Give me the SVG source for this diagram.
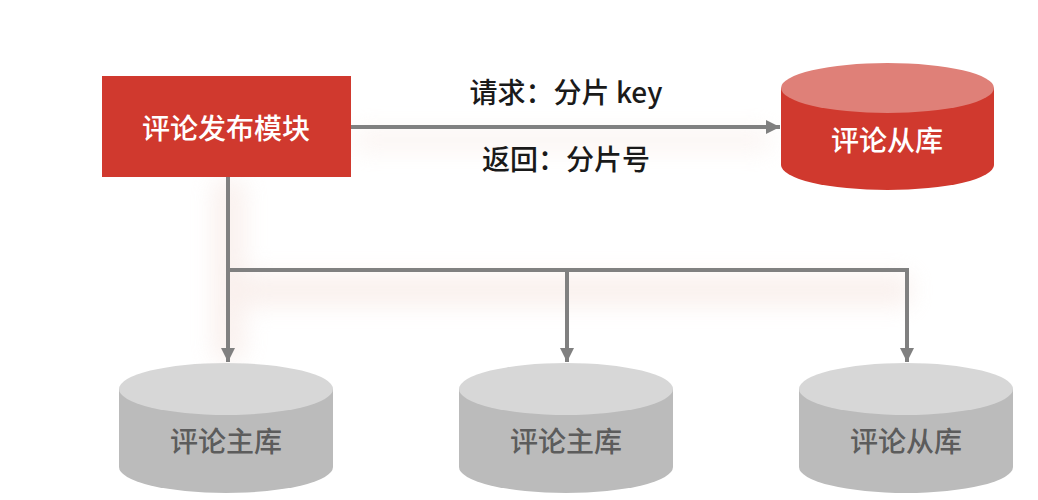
<svg xmlns="http://www.w3.org/2000/svg" width="1038" height="500" viewBox="0 0 1038 500">
<defs>
<style>
.lbl{font-family:"Noto Sans CJK SC","Noto Sans",sans-serif;font-size:28px;font-weight:500;text-anchor:middle;dominant-baseline:central}
.white{fill:#ffffff}
.gray{fill:#5c5c5c}
.edge{fill:none;stroke:#808080;stroke-width:4}
.note{font-family:"Noto Sans CJK SC","Noto Sans",sans-serif;font-size:28px;font-weight:500;fill:#1a1a1a;text-anchor:middle;dominant-baseline:central}
</style>
<marker id="arr" viewBox="0 0 10 10" refX="10" refY="5" markerWidth="3.6" markerHeight="3.6" orient="auto" markerUnits="strokeWidth">
<path d="M0,0 L10,5 L0,10 Z" fill="#808080"/>
</marker>
<filter id="glow" x="-50%" y="-50%" width="200%" height="200%">
<feGaussianBlur stdDeviation="12"/>
</filter>
</defs>
<rect width="1038" height="500" fill="#ffffff"/>
<g id="glow-layer" opacity="0.45" filter="url(#glow)">
<path d="M229,180 V360 M229,290 H910" fill="none" stroke="#f3ddd6" stroke-width="30"/>
<path d="M355,140 H770" fill="none" stroke="#f6e6e0" stroke-width="20"/>
</g>
<g id="connectors">
<path class="edge" d="M351,127 H780" marker-end="url(#arr)"/>
<path class="edge" d="M228,177 V362" marker-end="url(#arr)"/>
<path class="edge" d="M228,270 H907 V362" marker-end="url(#arr)"/>
<path class="edge" d="M567,270 V362" marker-end="url(#arr)"/>
<text class="note" x="566" y="91">请求：分片 key</text>
<text class="note" x="566" y="158">返回：分片号</text>
</g>
<g id="publish">
<rect x="102" y="76" width="249" height="101" fill="#d0392e"/>
<text class="lbl white" x="226" y="127">评论发布模块</text>
</g>
<g id="slave-red">
<path d="M781,88 V165 A106.5,25 0 0 0 994,165 V88 Z" fill="#d0392e"/>
<ellipse cx="887.5" cy="88" rx="106.5" ry="25" fill="#df8078"/>
<text class="lbl white" x="887" y="139">评论从库</text>
</g>
<g id="master1">
<path d="M119,389 V467 A107,26 0 0 0 333,467 V389 Z" fill="#bbbbbb"/>
<ellipse cx="226" cy="389" rx="107" ry="26" fill="#d7d7d7"/>
<text class="lbl gray" x="226" y="440">评论主库</text>
</g>
<g id="master2">
<path d="M459,389 V467 A107,26 0 0 0 673,467 V389 Z" fill="#bbbbbb"/>
<ellipse cx="566" cy="389" rx="107" ry="26" fill="#d7d7d7"/>
<text class="lbl gray" x="566" y="440">评论主库</text>
</g>
<g id="slave-gray">
<path d="M799,389 V467 A107,26 0 0 0 1013,467 V389 Z" fill="#bbbbbb"/>
<ellipse cx="906" cy="389" rx="107" ry="26" fill="#d7d7d7"/>
<text class="lbl gray" x="906" y="440">评论从库</text>
</g>
</svg>
